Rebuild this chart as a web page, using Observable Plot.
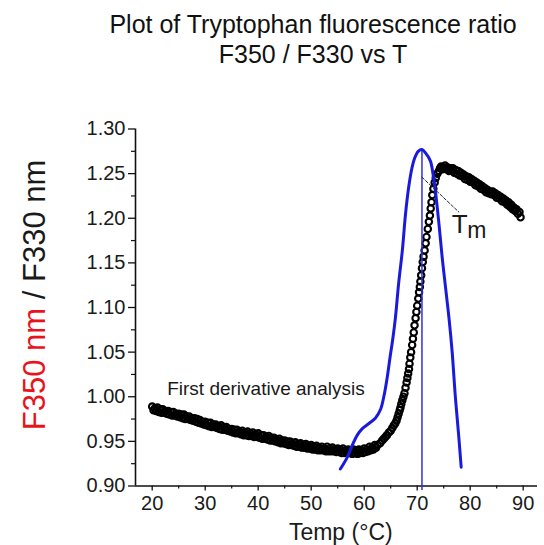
<!DOCTYPE html>
<html><head><meta charset="utf-8">
<script src="https://cdn.jsdelivr.net/npm/d3@7"></script>
<script src="https://cdn.jsdelivr.net/npm/@observablehq/plot@0.6"></script>
<style>
html,body{margin:0;padding:0;background:#fff;overflow:hidden;}
#wrap{width:544px;height:545px;position:relative;font-family:"Liberation Sans",Arial,Helvetica,sans-serif;}
#title{position:relative;height:85px;}
.t{position:absolute;left:82px;width:462px;text-align:center;font-size:25px;line-height:30px;color:#111;white-space:nowrap;}
#chart svg{display:block;}
</style></head><body>
<div id="wrap"><div id="title"></div><div id="chart"></div></div>
<script>
// ---- texts ----
const titleLines = ["Plot of Tryptophan fluorescence ratio", "F350 / F330 vs T"];
const yLabelRed = "F350 nm";
const yLabelBlack = " / F330 nm";
const xLabel = "Temp (\u00B0C)";
const annotText = "First derivative analysis";

// ---- axes ----
const xDomain = [16.85, 92.7];
const yDomain = [0.90, 1.30];
const xMajorTicks = [20, 30, 40, 50, 60, 70, 80, 90];
const xMinorTicks = [25, 35, 45, 55, 65, 75, 85];
const yMajorTicks = [0.90, 0.95, 1.00, 1.05, 1.10, 1.15, 1.20, 1.25, 1.30];
const yMinorTicks = [0.925, 0.975, 1.025, 1.075, 1.125, 1.175, 1.225, 1.275];

// ---- F350/F330 ratio (temp °C, ratio) ----
const baselineData = [
[20,0.989],[20.25,0.985],[20.5,0.987],[20.75,0.984],[21,0.988],[21.25,0.983],[21.5,0.986],[21.75,0.982],
[22,0.986],[22.25,0.982],[22.5,0.984],[22.75,0.981],[23,0.984],[23.25,0.980],[23.5,0.983],[23.75,0.979],
[24,0.983],[24.25,0.979],[24.5,0.981],[24.75,0.978],[25,0.981],[25.25,0.977],[25.5,0.980],[25.75,0.976],
[26,0.980],[26.25,0.975],[26.5,0.978],[26.75,0.975],[27,0.978],[27.25,0.974],[27.5,0.976],[27.75,0.973],
[28,0.976],[28.25,0.972],[28.5,0.975],[28.75,0.971],[29,0.974],[29.25,0.970],[29.5,0.972],[29.75,0.969],
[30,0.972],[30.25,0.968],[30.5,0.971],[30.75,0.967],[31,0.971],[31.25,0.966],[31.5,0.969],[31.75,0.966],
[32,0.969],[32.25,0.965],[32.5,0.967],[32.75,0.964],[33,0.968],[33.25,0.963],[33.5,0.966],[33.75,0.963],
[34,0.966],[34.25,0.962],[34.5,0.964],[34.75,0.961],[35,0.964],[35.25,0.960],[35.5,0.963],[35.75,0.959],
[36,0.963],[36.25,0.959],[36.5,0.961],[36.75,0.958],[37,0.962],[37.25,0.957],[37.5,0.960],[37.75,0.957],
[38,0.961],[38.25,0.956],[38.5,0.959],[38.75,0.956],[39,0.960],[39.25,0.955],[39.5,0.958],[39.75,0.955],
[40,0.959],[40.25,0.954],[40.5,0.957],[40.75,0.953],[41,0.957],[41.25,0.953],[41.5,0.955],[41.75,0.952],
[42,0.956],[42.25,0.951],[42.5,0.954],[42.75,0.951],[43,0.954],[43.25,0.950],[43.5,0.952],[43.75,0.949],
[44,0.953],[44.25,0.948],[44.5,0.951],[44.75,0.948],[45,0.951],[45.25,0.947],[45.5,0.950],[45.75,0.946],
[46,0.950],[46.25,0.946],[46.5,0.948],[46.75,0.945],[47,0.949],[47.25,0.944],[47.5,0.947],[47.75,0.944],
[48,0.948],[48.25,0.943],[48.5,0.946],[48.75,0.943],[49,0.947],[49.25,0.942],[49.5,0.945],[49.75,0.942],
[50,0.946],[50.25,0.941],[50.5,0.944],[50.75,0.941],[51,0.945],[51.25,0.940],[51.5,0.943],[51.75,0.940],
[52,0.944],[52.25,0.940],[52.5,0.942],[52.75,0.939],[53,0.944],[53.25,0.939],[53.5,0.942],[53.75,0.939],
[54,0.943],[54.25,0.939],[54.5,0.941],[54.75,0.938],[55,0.942],[55.25,0.938],[55.5,0.941],[55.75,0.937],
[56,0.942],[56.25,0.937],[56.5,0.940],[56.75,0.937],[57,0.941],[57.25,0.937],[57.5,0.940],[57.75,0.936],
[58,0.941],[58.25,0.937],[58.5,0.940],[58.75,0.936],[59,0.941],[59.25,0.937],[59.5,0.940],[59.75,0.937],
[60,0.942],[60.25,0.938],[60.5,0.941],[60.75,0.939],[61,0.944],[61.25,0.940],[61.5,0.943],[61.75,0.941],
[62,0.946],[62.25,0.943]
];
const transitionData = [
[62.5,0.946],[63.0,0.948],[63.4,0.951],[63.7,0.953],[64.0,0.955],[64.3,0.957],[64.65,0.960],[65.0,0.962],[65.3,0.965],[65.6,0.968],
[65.85,0.970],[66.1,0.973],[66.3,0.977],[66.5,0.981],[66.7,0.985],[66.85,0.988],[67.0,0.992],[67.2,0.996],[67.4,1.000],[67.6,1.004],
[67.8,1.010],[68.0,1.016],[68.15,1.021],[68.3,1.026],[68.45,1.031],[68.55,1.037],[68.7,1.044],[68.85,1.050],[69.05,1.058],[69.2,1.065],
[69.35,1.072],[69.5,1.080],[69.7,1.088],[69.85,1.095],[70.0,1.102],[70.2,1.110],[70.35,1.117],[70.5,1.123],[70.6,1.129],[70.75,1.136],
[70.9,1.144],[71.05,1.151],[71.2,1.157],[71.4,1.164],[71.6,1.172],[71.75,1.179],[72.0,1.188],[72.2,1.196],[72.4,1.203],[72.55,1.211],
[72.7,1.218],[72.85,1.226],[73.05,1.233],[73.3,1.240],[73.5,1.245],[73.8,1.250]
];
const unfoldedData = [
[74.1,1.253],[74.3,1.256],[74.5,1.258],[74.75,1.255],[75.0,1.257],[75.25,1.259],[75.5,1.255],[75.75,1.257],[76.0,1.253],[76.25,1.256],
[76.5,1.254],[76.75,1.256],[77.0,1.251],[77.25,1.254],[77.5,1.250],[77.75,1.253],[78.0,1.248],[78.25,1.251],[78.5,1.247],[78.75,1.249],
[79.0,1.244],[79.25,1.247],[79.5,1.243],[79.75,1.246],[80.0,1.241],[80.25,1.244],[80.5,1.240],[80.75,1.242],[81.0,1.237],[81.25,1.240],
[81.5,1.236],[81.75,1.238],[82.0,1.233],[82.25,1.236],[82.5,1.232],[82.75,1.234],[83.0,1.229],[83.25,1.232],[83.5,1.228],[83.75,1.230],
[84.0,1.227],[84.25,1.230],[84.5,1.226],[84.75,1.228],[85.0,1.223],[85.25,1.226],[85.5,1.222],[85.75,1.224],[86.0,1.219],[86.25,1.222],
[86.5,1.218],[86.75,1.220],[87.0,1.215],[87.25,1.218],[87.5,1.213],[87.75,1.215],[88.0,1.210],[88.25,1.212],[88.5,1.208],[88.75,1.210],
[89.0,1.205],[89.3,1.207],[89.5,1.201]
];

// ---- first derivative (scaled, temp °C, value) ----
const derivativeData = [
[55.5,0.919],[56.8,0.932],[57.7,0.945],[58.7,0.957],[59.6,0.964],[60.9,0.970],[62.1,0.976],[63.1,0.986],[63.7,1.000],[64.3,1.020],
[64.9,1.045],[65.4,1.065],[65.9,1.089],[66.5,1.127],[67.2,1.164],[67.8,1.205],[68.4,1.235],[69.0,1.256],[69.5,1.267],[70.2,1.275],
[70.9,1.277],[71.6,1.273],[72.5,1.264],[73.0,1.249],[73.45,1.230],[74.1,1.194],[74.7,1.157],[75.3,1.125],[76.0,1.088],[76.6,1.050],
[77.2,1.000],[77.85,0.955],[78.3,0.921]
];

// ---- Tm annotation ----
const tmTemp = [70.9];
const tmPeak = 1.277;
const tmRuleBottom = 0.895;
const tmDash = [[70.9,1.246],[77.85,1.207]];
const annotPos = [[22.83, 1.0015]];
const tmTPos = [[76.5, 1.1831]];
const tmMPos = [[79.45, 1.178]];

// ---- build ----
const toObj = ([t, v]) => ({t, v});
const ratioPts = [...baselineData, ...transitionData, ...unfoldedData].map(toObj);
const derivPts = derivativeData.map(toObj);
const dashPts = tmDash.map(toObj);

const titleDiv = document.getElementById("title");
const tops = [8.6, 39.3];
titleLines.forEach((s, i) => {
  const d = document.createElement("div");
  d.className = "t"; d.style.top = tops[i] + "px"; d.textContent = s;
  titleDiv.appendChild(d);
});

const FONT = '"Liberation Sans", Arial, Helvetica, sans-serif';
const chart = Plot.plot({
  width: 544, height: 460,
  marginLeft: 135, marginRight: 7, marginTop: 43.5, marginBottom: 59.5,
  x: {domain: xDomain, label: null},
  y: {domain: yDomain, label: null},
  style: {fontFamily: FONT, fontSize: "20px", color: "#1a1a1a", background: "white", overflow: "visible"},
  marks: [
    Plot.axisY(yMajorTicks, {tickSize: 7, tickPadding: 3, tickFormat: d => d.toFixed(2), label: null, stroke: "#111", strokeWidth: 1.3}),
    Plot.axisY(yMinorTicks, {tickSize: 4, tickFormat: () => "", label: null, stroke: "#111", strokeWidth: 1.2}),
    Plot.axisX(xMajorTicks, {tickSize: 5, tickPadding: 5, tickFormat: d => String(d), label: null, stroke: "#111", strokeWidth: 1.3}),
    Plot.axisX(xMinorTicks, {tickSize: 3, tickFormat: () => "", label: null, stroke: "#111", strokeWidth: 1.2}),
    Plot.ruleX([xDomain[0]], {y1: yDomain[0], y2: yDomain[1], stroke: "#111", strokeWidth: 1.6}),
    Plot.ruleY([yDomain[0]], {x1: xDomain[0], x2: xDomain[1], stroke: "#111", strokeWidth: 1.6}),
    Plot.dot(ratioPts, {x: "t", y: "v", r: 3.2, stroke: "#000", strokeWidth: 2.1, fill: "none"}),
    Plot.ruleX(tmTemp, {y1: tmRuleBottom, y2: tmPeak, stroke: "#3030e0", strokeWidth: 1.5}),
    Plot.line(derivPts, {x: "t", y: "v", stroke: "#1a1adc", strokeWidth: 3, curve: "catmull-rom"}),
    Plot.line(dashPts, {x: "t", y: "v", stroke: "#222", strokeWidth: 1, strokeDasharray: "3,2"}),
    Plot.text(annotPos.map(([t, v]) => ({t, v, s: annotText})), {x: "t", y: "v", text: "s", textAnchor: "start", lineAnchor: "bottom", fontSize: 19, fill: "#1a1a1a"}),
    Plot.text(tmTPos.map(([t, v]) => ({t, v, s: "T"})), {x: "t", y: "v", text: "s", textAnchor: "start", lineAnchor: "bottom", fontSize: 26, fill: "#1a1a1a"}),
    Plot.text(tmMPos.map(([t, v]) => ({t, v, s: "m"})), {x: "t", y: "v", text: "s", textAnchor: "start", lineAnchor: "bottom", fontSize: 23, fill: "#1a1a1a"})
  ]
});
document.getElementById("chart").appendChild(chart);

const svg = d3.select(chart);
const yl = svg.append("text")
  .attr("transform", "translate(45,209.9) rotate(-90)")
  .attr("text-anchor", "middle")
  .attr("font-size", 31)
  .attr("font-family", FONT);
yl.append("tspan").attr("fill", "#e8141c").text(yLabelRed);
yl.append("tspan").attr("fill", "#1a1a1a").text(yLabelBlack);
svg.append("text")
  .attr("x", 340.8).attr("y", 455)
  .attr("text-anchor", "middle")
  .attr("font-size", 23)
  .attr("font-family", FONT)
  .attr("fill", "#1a1a1a")
  .text(xLabel);
</script>
</body></html>
